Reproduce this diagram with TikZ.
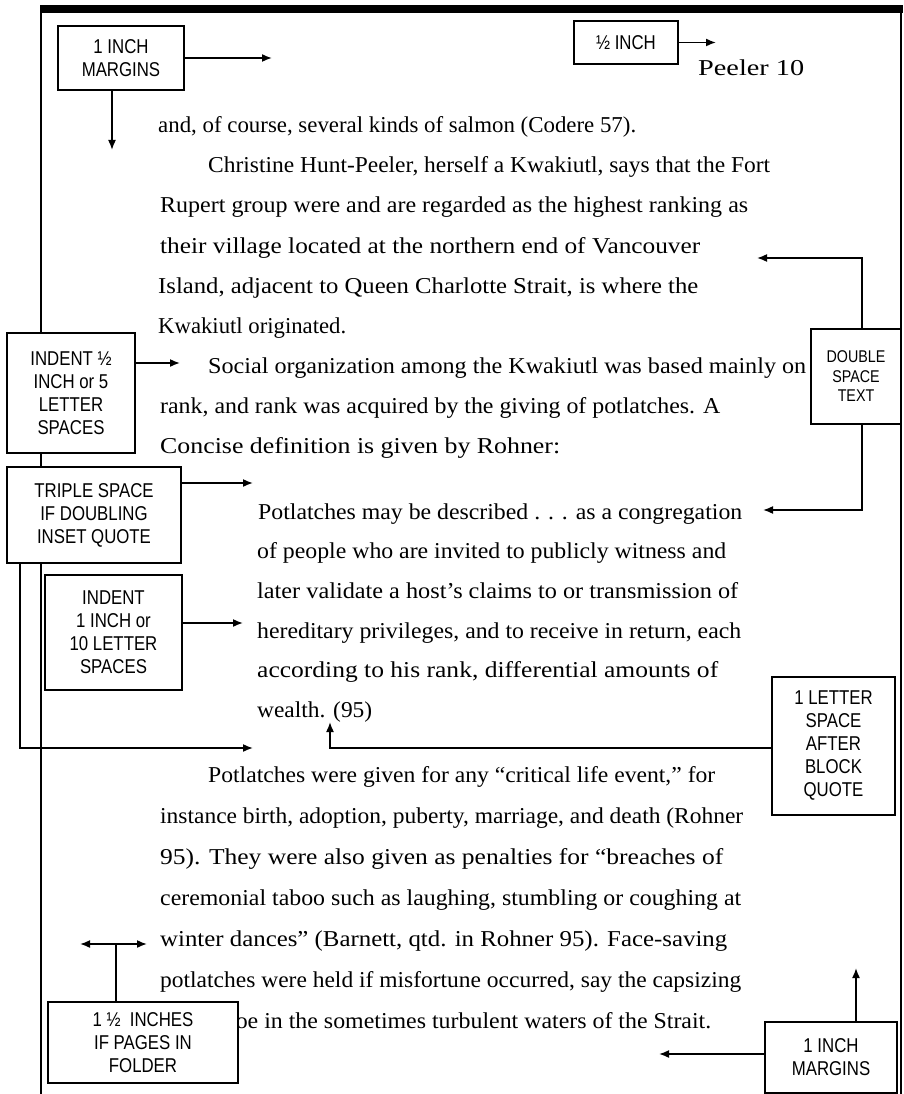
\documentclass[tikz,border=0pt]{standalone}
\usepackage{graphicx}
\usepackage{fontspec}
\setmainfont{Liberation Serif}
\newfontfamily\labelfont[FakeStretch=0.84]{Liberation Sans}
\usetikzlibrary{positioning,arrows.meta,calc}
\definecolor{pgInk}{RGB}{0,0,0}

% stretch one line of text to the width it has on the page
\newcommand{\fitline}[2]{\resizebox{#1pt}{\height}{#2}}

\tikzset{
  body/.style={anchor=base west, inner sep=0pt, font=\fontsize{22.7}{27}\selectfont},
  tag/.style={draw=pgInk, line width=1.6pt, fill=white, align=center, inner sep=0pt,
    font=\labelfont\fontsize{20}{23}\selectfont},
  arr/.style={-{Latex[length=10pt,width=8pt]}, line width=1.6pt},
  wire/.style={line width=1.6pt}
}

\begin{document}
\begin{tikzpicture}[x=1pt,y=-1pt]
  \useasboundingbox (0,0) rectangle (903,1094);

  % page edges
  \draw[line width=8pt] (40,9) -- (903,9);
  \draw[line width=2pt] (41,9) -- (41,1094);
  \draw[line width=2pt] (901,9) -- (901,1094);

  % running head
  \node[body] (head) at (698,76) {\fitline{106}{Peeler 10}};

  % body text
  \node[body] (t1) at (158,133) {\fitline{478}{and, of course, several kinds of salmon (Codere 57).}};
  \node[body] (t2) at (208,173) {\fitline{562}{Christine Hunt-Peeler, herself a Kwakiutl, says that the Fort}};
  \node[body] (t3) at (160,213) {\fitline{588}{Rupert group were and are regarded as the highest ranking as}};
  \node[body] (t4) at (160,253) {\fitline{540}{their village located at the northern end of Vancouver}};
  \node[body] (t5) at (158,293) {\fitline{540}{Island, adjacent to Queen Charlotte Strait, is where the}};
  \node[body] (t6) at (158,333) {\fitline{188}{Kwakiutl originated.}};
  \node[body] (t7) at (208,373) {\fitline{598}{Social organization among the Kwakiutl was based mainly on}};
  \node[body] (t8) at (160,413) {\fitline{560}{rank, and rank was acquired by the giving of potlatches. A}};
  \node[body] (t9) at (160,453) {\fitline{400}{Concise definition is given by Rohner:}};

  % block quote
  \node[body] (q1) at (258,519) {\fitline{484}{Potlatches may be described . . . as a congregation}};
  \node[body] (q2) at (257,558.7) {\fitline{469}{of people who are invited to publicly witness and}};
  \node[body] (q3) at (257,598.4) {\fitline{481}{later validate a host's claims to or transmission of}};
  \node[body] (q4) at (257,638) {\fitline{484}{hereditary privileges, and to receive in return, each}};
  \node[body] (q5) at (257,677.8) {\fitline{461}{according to his rank, differential amounts of}};
  \node[body] (q6) at (257,717.5) {\fitline{115}{wealth. (95)}};

  \node[body] (t10) at (208,782) {\fitline{507}{Potlatches were given for any “critical life event,” for}};
  \node[body] (t11) at (160,823) {\fitline{583}{instance birth, adoption, puberty, marriage, and death (Rohner}};
  \node[body] (t12) at (160,864) {\fitline{563}{95). They were also given as penalties for “breaches of}};
  \node[body] (t13) at (160,905) {\fitline{581}{ceremonial taboo such as laughing, stumbling or coughing at}};
  \node[body] (t14) at (160,946) {\fitline{567}{winter dances” (Barnett, qtd. in Rohner 95). Face-saving}};
  \node[body] (t15) at (160,987) {\fitline{581}{potlatches were held if misfortune occurred, say the capsizing}};
  \node[body] (t16) at (160,1028) {\fitline{551}{of a canoe in the sometimes turbulent waters of the Strait.}};

  % callout boxes
  \node[tag, minimum width=126pt, minimum height=64pt] (margTop) at (121,58) {1 INCH\\MARGINS};
  \node[tag, minimum width=104pt, minimum height=43pt] (halfIn) at (626,42.5) {½ INCH};
  \node[tag, minimum width=128pt, minimum height=120pt] (indHalf) at (71,393) {INDENT ½\\INCH or 5\\LETTER\\SPACES};
  \node[tag, minimum width=174pt, minimum height=96pt] (triple) at (94,515) {TRIPLE SPACE\\IF DOUBLING\\INSET QUOTE};
  \node[tag, minimum width=137pt, minimum height=115pt] (indOne) at (113.5,632.5) {INDENT\\1 INCH or\\10 LETTER\\SPACES};
  \node[tag, minimum width=90pt, minimum height=95pt, font=\labelfont\fontsize{17}{19.5}\selectfont] (dbl) at (856,376.5) {DOUBLE\\SPACE\\TEXT};
  \node[tag, minimum width=123pt, minimum height=138pt] (oneLet) at (833.5,746) {1 LETTER\\SPACE\\AFTER\\BLOCK\\QUOTE};
  \node[tag, minimum width=190pt, minimum height=81pt] (folder) at (143,1042.5) {1 ½ \ INCHES\\IF PAGES IN\\FOLDER};
  \node[tag, minimum width=132pt, minimum height=71pt] (margBot) at (831,1057.5) {1 INCH\\MARGINS};

  % arrow ends
  \coordinate (mR) at (272,58);
  \coordinate (mD) at (112,150);
  \coordinate (hR) at (716,42.5);
  \coordinate (iR) at (180,363);
  \coordinate (tR) at (253,483);
  \coordinate (tB) at (253,748);
  \coordinate (oR) at (243,623);
  \coordinate (dUp) at (757,258);
  \coordinate (dDn) at (763,510);
  \coordinate (lUp) at (330,722);
  \coordinate (fL) at (80,944);
  \coordinate (fR) at (147,944);
  \coordinate (bUp) at (856,968);
  \coordinate (bL) at (659,1054);

  % connectors
  \draw[arr] (margTop.east |- mR) -- (mR);
  \draw[arr] (margTop.south -| mD) -- (mD);
  \draw[arr] (halfIn.east |- hR) -- (hR);
  \draw[arr] (indHalf.east |- iR) -- (iR);
  \draw[arr] (triple.east |- tR) -- (tR);
  \draw[arr] (triple.south -| 20,0) |- (tB);
  \draw[arr] (indOne.east |- oR) -- (oR);
  \draw[arr] (dbl.north -| 862,0) |- (dUp);
  \draw[arr] (dbl.south -| 862,0) |- (dDn);
  \draw[arr] (oneLet.west |- 0,748) -| (lUp);
  \draw[arr, {Latex[length=10pt,width=8pt]}-{Latex[length=10pt,width=8pt]}] (fL) -- (fR);
  \draw[wire] (folder.north -| 116,0) -- (116,944);
  \draw[arr] (margBot.north -| bUp) -- (bUp);
  \draw[arr] (margBot.west |- bL) -- (bL);
\end{tikzpicture}
\end{document}
